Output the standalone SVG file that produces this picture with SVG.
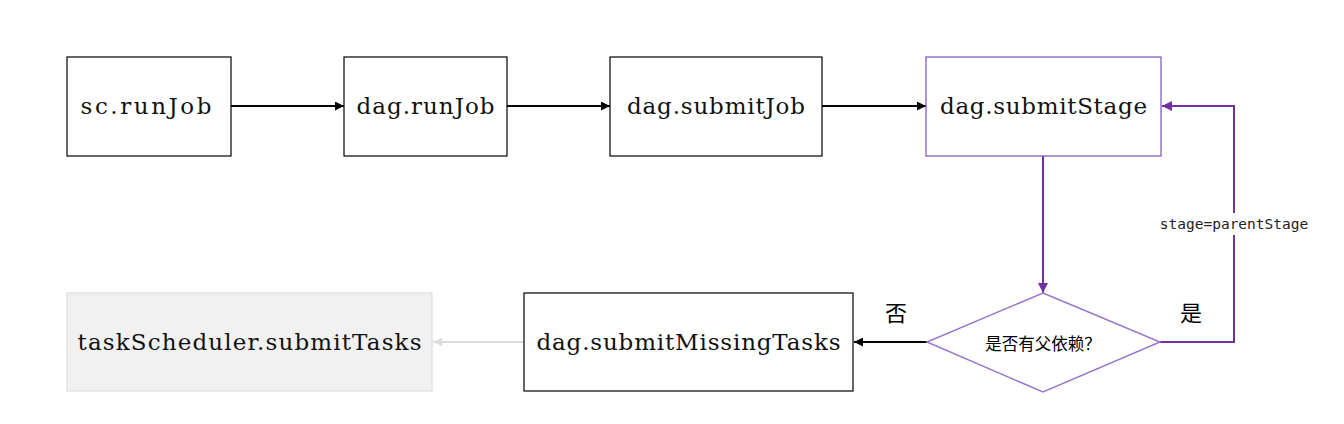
<svg xmlns="http://www.w3.org/2000/svg" width="1344" height="424" viewBox="0 0 1344 424">
<defs>
<marker id="ab" viewBox="0 0 10 10" refX="10" refY="5" markerWidth="9" markerHeight="9" markerUnits="userSpaceOnUse" orient="auto"><path d="M0,0 L10,5 L0,10 z" fill="#000"/></marker>
<marker id="ap" viewBox="0 0 10 10" refX="10" refY="5" markerWidth="10" markerHeight="10" markerUnits="userSpaceOnUse" orient="auto"><path d="M0,0 L10,5 L0,10 z" fill="#7030a0"/></marker>
<marker id="ag" viewBox="0 0 10 10" refX="10" refY="5" markerWidth="9" markerHeight="9" markerUnits="userSpaceOnUse" orient="auto"><path d="M0,0 L10,5 L0,10 z" fill="#dddddd"/></marker>
<style>
.box{fill:#fff;stroke:#000;stroke-width:1.2}
.t{font-family:"DejaVu Serif","Liberation Serif","Noto Sans CJK SC",serif;font-size:23px;fill:#111;text-anchor:middle;dominant-baseline:central}
.cjk{font-family:"Noto Sans CJK SC",sans-serif;fill:#000;text-anchor:middle;dominant-baseline:central}
.blk{fill:none;stroke:#000;stroke-width:2}
.pur{fill:none;stroke:#7030a0;stroke-width:2}
</style>
</defs>
<rect width="1344" height="424" fill="#fff"/>
<g id="connectors">
<line class="blk" x1="231" y1="106" x2="344" y2="106" marker-end="url(#ab)"/>
<line class="blk" x1="507" y1="106" x2="610" y2="106" marker-end="url(#ab)"/>
<line class="blk" x1="822" y1="106" x2="926" y2="106" marker-end="url(#ab)"/>
<line class="pur" x1="1043" y1="156" x2="1043" y2="293" marker-end="url(#ap)"/>
<polyline class="pur" points="1160,342 1234,342 1234,106 1162,106" marker-end="url(#ap)"/>
<rect x="1150" y="213" width="168" height="22" fill="#fff"/>
<text x="1234" y="224" style="font-family:'DejaVu Sans Mono',monospace;font-size:14.5px;text-anchor:middle;dominant-baseline:central;fill:#222">stage=parentStage</text>
<line class="blk" x1="927" y1="342" x2="854" y2="342" marker-end="url(#ab)"/>
<line x1="524" y1="342" x2="433" y2="342" stroke="#dddddd" stroke-width="2" marker-end="url(#ag)"/>
<text class="cjk" x="896" y="311" font-size="22">否</text>
<text class="cjk" x="1191" y="311" font-size="22">是</text>
</g>
<g id="n1"><rect class="box" x="67" y="57" width="164" height="99"/><text class="t" x="146" y="106" textLength="131" lengthAdjust="spacing">sc.runJob</text></g>
<g id="n2"><rect class="box" x="344" y="57" width="163" height="99"/><text class="t" x="425.5" y="106" textLength="138" lengthAdjust="spacing">dag.runJob</text></g>
<g id="n3"><rect class="box" x="610" y="57" width="212" height="99"/><text class="t" x="716" y="106" textLength="178" lengthAdjust="spacing">dag.submitJob</text></g>
<g id="n4"><rect x="926" y="57" width="235" height="99" fill="#fff" stroke="#7a52b8" stroke-width="1.2"/><text class="t" x="1043.5" y="106" textLength="207" lengthAdjust="spacing">dag.submitStage</text></g>
<g id="n5"><polygon points="1043,293 1160,342 1043,392 927,342" fill="#fff" stroke="#9a76cf" stroke-width="1.5"/><text class="cjk" x="1043" y="343" font-size="16.5">是否有父依赖？</text></g>
<g id="n6"><rect class="box" x="524" y="293" width="329" height="98"/><text class="t" x="688.5" y="342" textLength="304" lengthAdjust="spacing">dag.submitMissingTasks</text></g>
<g id="n7"><rect x="67" y="293" width="365" height="98" fill="#f1f1f1" stroke="#dddddd" stroke-width="1.2"/><text class="t" x="249.5" y="342" textLength="344" lengthAdjust="spacing">taskScheduler.submitTasks</text></g>
</svg>
